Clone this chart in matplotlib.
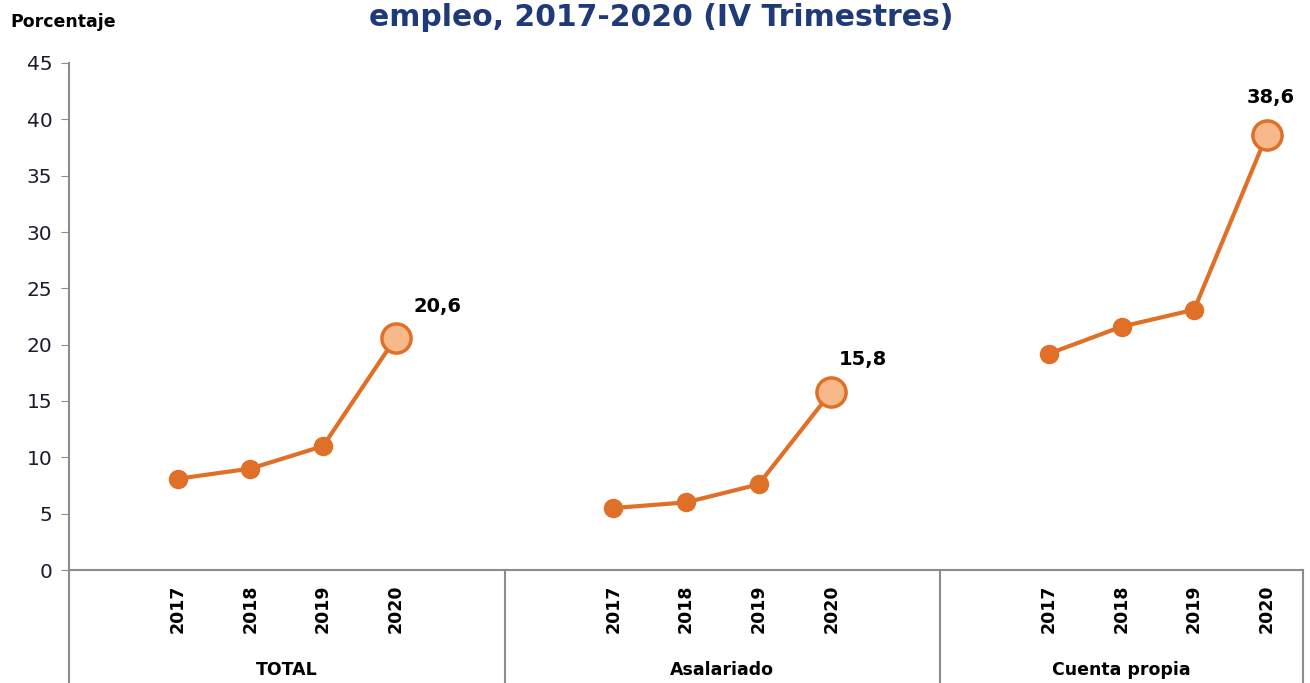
import matplotlib.pyplot as plt
from matplotlib.lines import Line2D

# data
groups = ["TOTAL", "Asalariado", "Cuenta propia"]
years = ["2017", "2018", "2019", "2020"]
totalVals = [8.1, 9.0, 11.0, 20.6]
asalariadoVals = [5.5, 6.0, 7.6, 15.8]
cuentaVals = [19.2, 21.6, 23.1, 38.6]
yTicks = [0, 5, 10, 15, 20, 25, 30, 35, 40, 45]

LINE = "#e07027"
FILL = "#f8b98a"
AXIS = "#8c8c8c"
TEXT = "#1c1c30"

fig = plt.figure(figsize=(13.1, 6.83), dpi=100)
ax = fig.add_axes([69 / 1310, 113 / 683, (1303 - 69) / 1310, (570 - 63) / 683])

series = [totalVals, asalariadoVals, cuentaVals]
labelOffsets = [(18, 31), (8, 32), (-20, 38)]
groupCenters = [3, 9, 14.5]
for g, vals in enumerate(series):
    xs = [g * 6 + 1.5 + i for i in range(len(vals))]
    ax.plot(xs, vals, color=LINE, linewidth=3, marker="o", markersize=13,
            markerfacecolor=LINE, markeredgecolor=LINE, zorder=3)
    ax.plot(xs[-1], vals[-1], marker="o", markersize=21, markerfacecolor=FILL,
            markeredgecolor=LINE, markeredgewidth=2.5, zorder=4)
    dx, dy = labelOffsets[g]
    ax.annotate(f"{vals[-1]:.1f}".replace(".", ","), (xs[-1], vals[-1]),
                xytext=(dx, dy), textcoords="offset pixels", ha="left", va="center",
                fontsize=14, fontweight="bold", color="black")
    for i, yr in enumerate(years):
        ax.text(xs[i], -1.3, yr, rotation=90, ha="center", va="top",
                fontsize=12.5, fontweight="bold", color="black")
    ax.text(groupCenters[g], -8.9, groups[g], ha="center", va="center",
            fontsize=12.5, fontweight="bold", color="black")

ax.set_xlim(0, 17)
ax.set_ylim(0, 45)
ax.set_yticks(yTicks)
ax.set_xticks([])
ax.tick_params(axis="y", direction="out", length=6, color=AXIS, labelsize=14.5,
               labelcolor=TEXT, pad=6)
for side in ["top", "right"]:
    ax.spines[side].set_visible(False)
ax.spines["left"].set_color(AXIS)
ax.spines["bottom"].set_color(AXIS)
ax.spines["left"].set_linewidth(1.5)
ax.spines["bottom"].set_linewidth(1.5)

# category separators below the axis
for xv in [0, 6, 12, 17]:
    ax.add_line(Line2D([xv, xv], [0, -12], color=AXIS, linewidth=1.5, clip_on=False))

fig.text(10 / 1310, 1 - 22 / 683, "Porcentaje", ha="left", va="center",
         fontsize=12.5, fontweight="bold", color="black")
fig.text(661 / 1310, 1 - 18 / 683, "empleo, 2017-2020 (IV Trimestres)", ha="center",
         va="center", fontsize=21.5, fontweight="bold", color="#1f3a78")

fig.savefig("out.png", dpi=100)
